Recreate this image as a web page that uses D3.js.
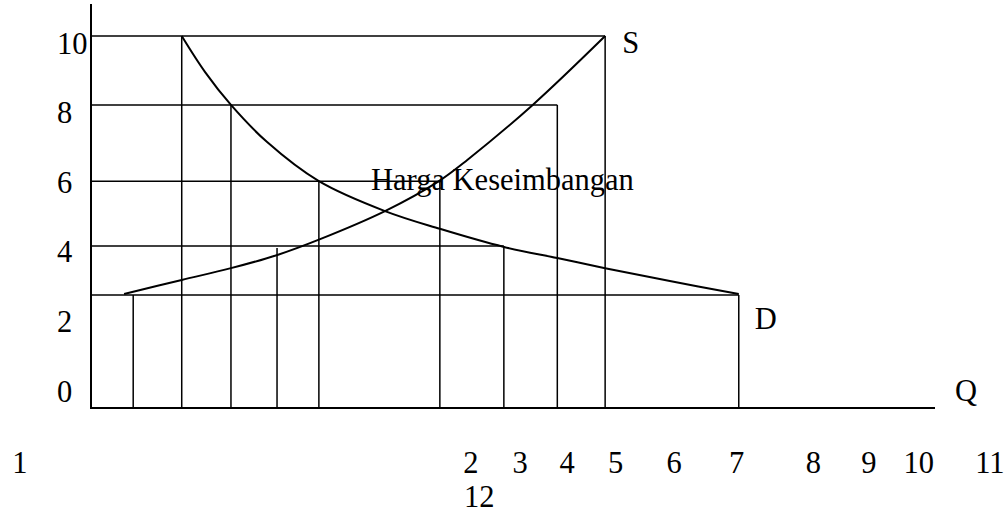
<!DOCTYPE html>
<meta charset="utf-8">
<script src="https://d3js.org/d3.v7.min.js"></script>
<style>
  body { margin: 0; background: #fff; }
  svg text { font-family: "Liberation Serif", "Times New Roman", serif; font-size: 30.5px; fill: #000; }
</style>
<div id="chart"></div>
<script>
// price labels on the vertical axis
var priceTicks = [0, 2, 4, 6, 8, 10];

// quantity labels under the chart, where they sit in the picture (Q units), second row for "12"
var qtyLabels = ["1", "2", "3", "4", "5", "6", "7", "8", "9", "10", "11", "12"];
var qtyLabelQ = [-1.01, 5.40, 6.10, 6.77, 7.46, 8.29, 9.18, 10.27, 11.06, 11.77, 12.78, 5.52];
var qtyLabelRow = [0, 0, 0, 0, 0, 0, 0, 0, 0, 0, 0, 1];

// supply curve S
var supplyQ = [0.47, 1.29, 1.99, 2.65, 3.24, 4.18, 4.93, 5.35, 6.28, 7.31];
var supplyP = [2.79, 3.19, 3.53, 3.91, 4.35, 5.17, 6.01, 6.64, 8.22, 10.20];

// demand curve D
var demandQ = [1.29, 1.62, 1.99, 2.50, 3.24, 4.18, 4.96, 5.87, 6.63, 7.31, 8.23, 9.21];
var demandP = [10.20, 9.17, 8.22, 7.16, 6.03, 5.17, 4.66, 4.14, 3.82, 3.53, 3.16, 2.79];

// equilibrium point
var eqQ = 4.18, eqP = 5.17;

// horizontal guides: from the price axis out to (q, p)
var hGuideP = [10.20, 8.22, 6.03, 4.17, 2.76];
var hGuideQ = [7.31, 6.63, 4.96, 5.87, 9.21];

// vertical guides: from the quantity axis up to (q, p)
var vGuideQ = [0.60, 1.29, 1.99, 2.645, 3.24, 4.96, 5.87, 6.63, 7.31, 9.21];
var vGuideP = [2.76, 10.20, 8.22, 4.11, 6.03, 6.03, 4.17, 8.22, 10.20, 2.76];

// axis extents
var qMax = 12, pMin = -0.49, pMax = 11.12;

var width = 1007, height = 514;

var svg = d3.select("#chart")
  .append("svg")
    .attr("width", width)
    .attr("height", height);

var x = d3.scaleLinear()
  .domain([0, qMax])
  .range([91, 935]);

var y = d3.scaleLinear()
  .domain([0, 10])
  .range([391, 43]);

var x0 = x(0), yBase = y(pMin);

// guide lines
var guides = svg.append("g")
  .attr("stroke", "#000")
  .attr("stroke-width", 1.5)
  .attr("fill", "none");

guides.selectAll("line.h")
  .data(hGuideP)
  .enter().append("line")
    .attr("class", "h")
    .attr("x1", x0)
    .attr("x2", function(d, i) { return x(hGuideQ[i]); })
    .attr("y1", function(d) { return y(d); })
    .attr("y2", function(d) { return y(d); });

guides.selectAll("line.v")
  .data(vGuideQ)
  .enter().append("line")
    .attr("class", "v")
    .attr("x1", function(d) { return x(d); })
    .attr("x2", function(d) { return x(d); })
    .attr("y1", yBase)
    .attr("y2", function(d, i) { return y(vGuideP[i]); });

// axes
svg.append("line")
  .attr("x1", x0).attr("x2", x0)
  .attr("y1", y(pMax)).attr("y2", yBase + 1)
  .attr("stroke", "#000").attr("stroke-width", 2);

svg.append("line")
  .attr("x1", x0).attr("x2", x(qMax))
  .attr("y1", yBase).attr("y2", yBase)
  .attr("stroke", "#000").attr("stroke-width", 2);

// price labels
var yAxis = svg.append("g")
  .attr("transform", "translate(" + (x0 - 34) + ",0)")
  .call(d3.axisLeft(y).tickValues(priceTicks).tickSize(0));
yAxis.select(".domain").remove();
yAxis.attr("font-size", null).attr("font-family", null);
yAxis.selectAll("text")
  .attr("text-anchor", "start")
  .attr("x", 0)
  .attr("dy", "0.33em");

// curves
var line = d3.line()
  .x(function(d) { return x(d[0]); })
  .y(function(d) { return y(d[1]); })
  .curve(d3.curveCatmullRom.alpha(0.5));

svg.append("path")
  .datum(d3.zip(supplyQ, supplyP))
  .attr("d", line)
  .attr("fill", "none").attr("stroke", "#000").attr("stroke-width", 2);

svg.append("path")
  .datum(d3.zip(demandQ, demandP))
  .attr("d", line)
  .attr("fill", "none").attr("stroke", "#000").attr("stroke-width", 2);

// curve and axis names
var sEnd = supplyQ.length - 1, dEnd = demandQ.length - 1;
svg.append("text")
  .attr("x", x(supplyQ[sEnd]) + 17)
  .attr("y", y(supplyP[sEnd]) + 17)
  .text("S");
svg.append("text")
  .attr("x", x(demandQ[dEnd]) + 16)
  .attr("y", y(demandP[dEnd]) + 35)
  .text("D");
svg.append("text")
  .attr("x", x(qMax) + 20)
  .attr("y", yBase - 7)
  .text("Q");

svg.append("text")
  .attr("x", x(eqQ) - 14)
  .attr("y", y(eqP) - 21)
  .text("Harga Keseimbangan");

// quantity labels under the chart
svg.append("g")
  .selectAll("text")
  .data(qtyLabels)
  .enter().append("text")
    .attr("text-anchor", "middle")
    .attr("x", function(d, i) { return x(qtyLabelQ[i]); })
    .attr("y", function(d, i) { return yBase + 65 + qtyLabelRow[i] * 34; })
    .text(function(d) { return d; });
</script>
